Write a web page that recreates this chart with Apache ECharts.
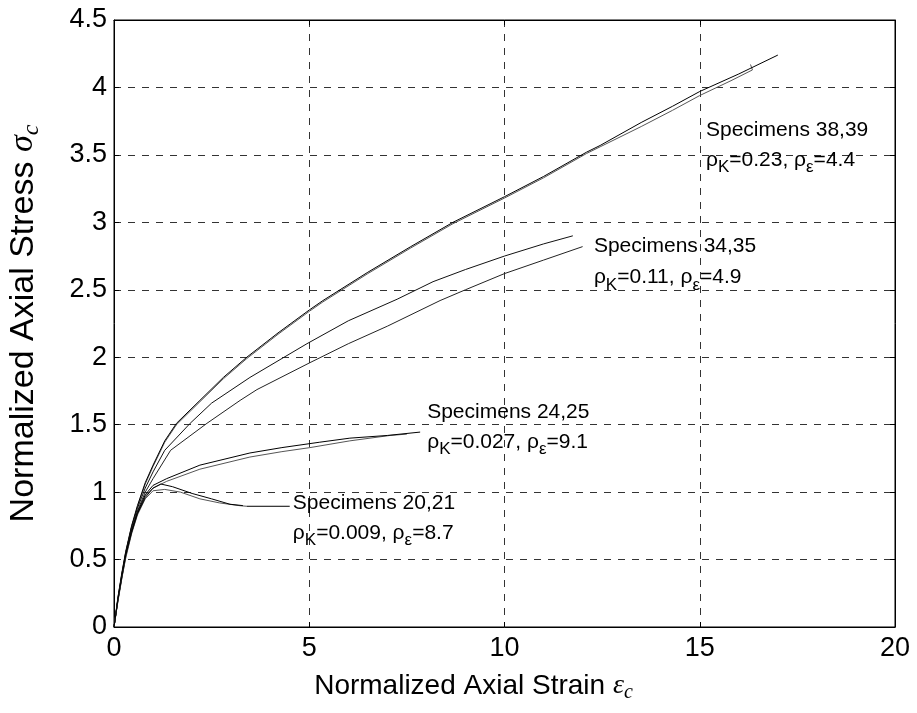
<!DOCTYPE html>
<html>
<head>
<meta charset="utf-8">
<script src="https://cdn.jsdelivr.net/npm/echarts@6/dist/echarts.min.js"></script>
<style>html,body{margin:0;padding:0;background:#fff}#c{width:917px;height:713px}</style>
</head>
<body>
<div id="c"></div>
<script>
// ---- data (normalized strain, normalized stress) ----
const s38 = [[0,0],[0.1,0.22],[0.2,0.4],[0.3,0.56],[0.45,0.75],[0.6,0.9],[0.8,1.07],[1.0,1.2],[1.3,1.38],[1.6,1.51],[2.2,1.68],[2.8,1.85],[3.4,2.0],[4.2,2.18],[5.0,2.35],[5.35,2.42],[6.5,2.63],[7.6,2.82],[8.68,3.0],[10,3.19],[11,3.34],[12.1,3.52],[12.45,3.57],[13.5,3.74],[14.3,3.86],[15,3.97],[16,4.1],[17,4.24]];
const s39 = [[0,0],[0.1,0.21],[0.2,0.39],[0.3,0.55],[0.45,0.74],[0.6,0.89],[0.8,1.06],[1.0,1.19],[1.3,1.37],[1.6,1.5],[2.2,1.67],[2.8,1.84],[3.4,1.99],[4.2,2.17],[5.0,2.34],[5.35,2.41],[6.5,2.62],[7.6,2.81],[8.68,2.99],[10,3.18],[11,3.33],[12.1,3.51],[12.45,3.56],[13.5,3.71],[14.3,3.83],[15,3.94],[15.8,4.05],[16.35,4.13],[16.3,4.17]];
const s34 = [[0,0],[0.1,0.21],[0.2,0.39],[0.3,0.55],[0.45,0.74],[0.6,0.88],[0.8,1.03],[1.0,1.15],[1.3,1.31],[1.95,1.51],[2.5,1.66],[3.48,1.85],[4.94,2.1],[6,2.27],[7.25,2.43],[8.17,2.56],[9,2.65],[10,2.75],[11,2.84],[11.75,2.9]];
const s35 = [[0,0],[0.1,0.2],[0.2,0.38],[0.3,0.54],[0.45,0.72],[0.6,0.86],[0.8,1.0],[1.0,1.1],[1.45,1.31],[2.38,1.51],[3.23,1.68],[3.66,1.76],[5.02,1.96],[6,2.1],[7,2.23],[8.35,2.42],[9,2.5],[10,2.62],[11,2.72],[12,2.82]];
const s24 = [[0,0],[0.1,0.2],[0.2,0.37],[0.3,0.53],[0.45,0.71],[0.6,0.85],[0.8,0.98],[1.0,1.05],[1.35,1.1],[2.2,1.2],[3.48,1.29],[4.3,1.33],[5.27,1.37],[6.04,1.4],[7,1.42],[7.84,1.445]];
const s25 = [[0,0],[0.1,0.19],[0.2,0.36],[0.3,0.52],[0.45,0.7],[0.6,0.84],[0.8,0.97],[1.0,1.03],[1.35,1.08],[2.2,1.17],[3.48,1.26],[4.3,1.3],[5.02,1.33],[6.04,1.38],[7.07,1.42],[7.5,1.43]];
const s20 = [[0,0],[0.1,0.2],[0.2,0.37],[0.3,0.53],[0.45,0.7],[0.6,0.84],[0.8,0.96],[1.0,1.03],[1.2,1.06],[1.5,1.04],[2.0,0.99],[2.5,0.95],[2.97,0.91],[3.3,0.9]];
const s21 = [[0,0],[0.1,0.19],[0.2,0.36],[0.3,0.51],[0.45,0.69],[0.6,0.83],[0.8,0.95],[1.0,1.01],[1.3,1.02],[1.7,1.0],[2.2,0.95],[2.7,0.92],[3.2,0.9],[3.4,0.895]];
const leader20 = [[3.4,0.895],[4.5,0.895]];
const noteTitles = ['Specimens 38,39','Specimens 34,35','Specimens 24,25','Specimens 20,21'];
const noteParams = ['ρ{k|K}=0.23, ρ{k|ε}=4.4','ρ{k|K}=0.11, ρ{k|ε}=4.9','ρ{k|K}=0.027, ρ{k|ε}=9.1','ρ{k|K}=0.009, ρ{k|ε}=8.7'];
const noteAnchor = [[15.16,3.68],[12.29,2.82],[8.02,1.594],[4.58,0.919]];
const noteAnchor2 = [[15.16,3.46],[12.29,2.59],[8.02,1.371],[4.58,0.697]];
const xTicks = [0,5,10,15,20];
const yTicks = [0,0.5,1,1.5,2,2.5,3,3.5,4,4.5];

const FONT = 'Liberation Sans, Arial, sans-serif';
const SERIF = 'Liberation Serif, Times New Roman, serif';
const chart = echarts.init(document.getElementById('c'), null, {renderer:'canvas'});
const grid = {left:114, right:22, top:20, bottom:86, show:true, borderColor:'#000', borderWidth:1, backgroundColor:'#fff', outerBoundsMode:'none', containLabel:false};
const splitLine = {show:true, lineStyle:{color:'#333', width:1, type:[7,7]}};
function line(data, color){
  return {type:'line', data:data, symbol:'none', smooth:false, lineStyle:{color:color, width:1}, z:3, silent:true, animation:false};
}
const notes1 = noteAnchor.map((p,i)=>({value:p, label:{formatter:noteTitles[i]}}));
const notes2 = noteAnchor2.map((p,i)=>({value:p, label:{formatter:noteParams[i]}}));
const noteLabel = {show:true, position:'right', distance:0, color:'#000', opacity:1, fontFamily:FONT, fontSize:21,
  rich:{k:{fontFamily:FONT, fontSize:17, padding:[15,0,0,0], color:'#000'}}};
function nameRich(size){
  return {color:'#000', fontFamily:FONT, fontSize:size, rich:{
    n:{fontFamily:FONT, fontSize:size, color:'#000'},
    e:{fontFamily:SERIF, fontStyle:'italic', fontSize:size, color:'#000'},
    s:{fontFamily:SERIF, fontStyle:'italic', fontSize:Math.round(size*0.7), color:'#000', padding:[Math.round(size*0.5),0,0,0]}}};
}
const xName = nameRich(28); xName.padding = [0,62,0,0];
const yName = nameRich(34);
chart.setOption({
  animation:false,
  backgroundColor:'#fff',
  grid:grid,
  xAxis:[{type:'value', min:0, max:20, interval:5, position:'bottom',
    name:'{n|Normalized Axial Strain }{e|ε}{s|c}', nameLocation:'middle', nameGap:42,
    nameTextStyle:xName,
    axisLine:{show:true, onZero:false, lineStyle:{color:'#000', width:1}},
    axisTick:{show:true, inside:true, length:5, lineStyle:{color:'#000'}},
    axisLabel:{color:'#000', fontFamily:FONT, fontSize:27, margin:8, formatter:(v)=>String(v)},
    splitLine:splitLine},
   {type:'value', min:0, max:20, interval:5, position:'top',
    axisLine:{show:true, onZero:false, lineStyle:{color:'#000'}},
    axisTick:{show:true, inside:true, length:5, lineStyle:{color:'#000'}},
    axisLabel:{show:false}, splitLine:{show:false}}],
  yAxis:[{type:'value', min:0, max:4.5, interval:0.5, position:'left',
    name:'{n|Normalized Axial Stress }{e|σ}{s|c}', nameLocation:'middle', nameGap:70, nameRotate:90,
    nameTextStyle:yName,
    axisLine:{show:true, onZero:false, lineStyle:{color:'#000', width:1}},
    axisTick:{show:true, inside:true, length:5, lineStyle:{color:'#000'}},
    axisLabel:{color:'#000', fontFamily:FONT, fontSize:27, margin:7, formatter:(v)=>String(v)},
    splitLine:splitLine},
   {type:'value', min:0, max:4.5, interval:0.5, position:'right',
    axisLine:{show:true, onZero:false, lineStyle:{color:'#000'}},
    axisTick:{show:true, inside:true, length:5, lineStyle:{color:'#000'}},
    axisLabel:{show:false}, splitLine:{show:false}}],
  series:[
    line(s39,'#555'), line(s38,'#000'),
    line(s35,'#222'), line(s34,'#111'),
    line(s25,'#555'), line(s24,'#000'),
    line(s21,'#555'), line(s20,'#000'),
    line(leader20,'#000'),
    {type:'scatter', data:notes1, symbolSize:0, itemStyle:{opacity:1, color:'#000'}, label:noteLabel, z:5, silent:true},
    {type:'scatter', data:notes2, symbolSize:0, itemStyle:{opacity:1, color:'#000'}, label:noteLabel, z:5, silent:true}
  ]
});
</script>
</body>
</html>
